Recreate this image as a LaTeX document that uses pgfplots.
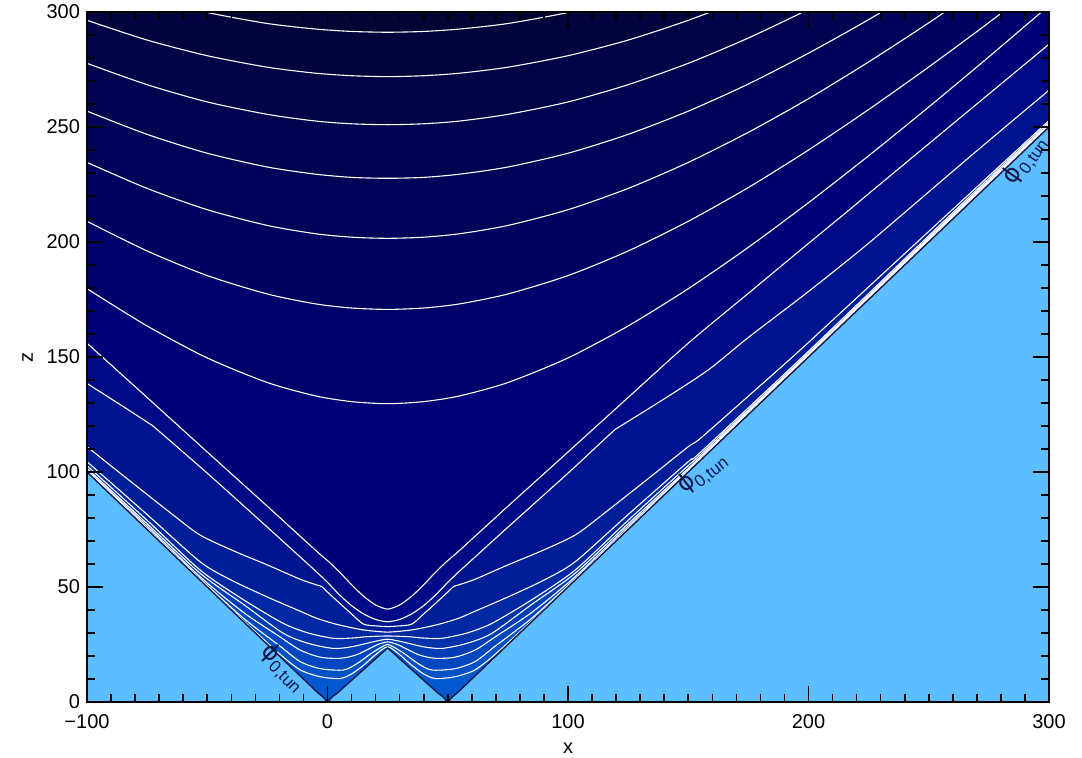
\documentclass[border=0pt]{standalone}
\usepackage{fontspec}
\setmainfont{Liberation Sans}
\newfontfamily\dejavu{DejaVu Sans}
\usepackage{pgfplots}
\usepackage{pgfplotstable}
\pgfplotsset{compat=1.18}
\definecolor{B0}{RGB}{4,4,52}
\definecolor{B1}{RGB}{3,3,62}
\definecolor{B2}{RGB}{3,3,72}
\definecolor{B3}{RGB}{2,2,80}
\definecolor{B4}{RGB}{2,2,88}
\definecolor{B5}{RGB}{1,1,97}
\definecolor{B6}{RGB}{0,0,106}
\definecolor{B7}{RGB}{0,0,120}
\definecolor{B8}{RGB}{0,10,134}
\definecolor{B9}{RGB}{0,20,144}
\definecolor{B10}{RGB}{0,30,152}
\definecolor{B11}{RGB}{0,40,162}
\definecolor{B12}{RGB}{0,50,172}
\definecolor{B13}{RGB}{0,60,180}
\definecolor{B14}{RGB}{0,70,190}
\definecolor{B15}{RGB}{0,80,198}
\definecolor{B16}{RGB}{0,88,206}
\definecolor{LBc}{RGB}{92,189,255}
\definecolor{lbl}{RGB}{16,24,80}
\newcommand{\phitun}{{\dejavu\fontsize{12}{13}\selectfont ϕ}\raisebox{-0.5ex}{\fontsize{8.5}{9}\selectfont 0,tun}}
\pgfplotstableread{
x y
-100 314.4
-75 306.3
-50 299.8
-25 295.0
-5 292.6
10 291.55
25 291.2
40 291.55
55 292.6
75 295.0
100 299.8
125 306.3
150 314.4
175 324.1
300 391
}\LA
\pgfplotstableread{
x y
-100 296.4
-75 287.8
-50 281.0
-25 276.0
-5 273.4
10 272.3
25 271.9
40 272.3
55 273.4
75 276.0
100 281.0
125 287.8
150 296.4
175 306.5
200 318.1
300 375.8
}\LB
\pgfplotstableread{
x y
-100 277.7
-75 268.4
-50 260.9
-25 255.5
-5 252.6
10 251.4
25 251.0
40 251.4
55 252.6
75 255.5
100 260.9
125 268.4
150 277.7
175 288.7
200 301.2
225 315.0
300 362.5
}\LC
\pgfplotstableread{
x y
-100 256.9
-75 246.8
-50 238.6
-25 232.6
-5 229.5
10 228.1
25 227.7
40 228.1
55 229.5
75 232.6
100 238.6
125 246.8
150 256.9
175 268.7
200 282.1
225 296.7
250 312.5
300 346.8
}\LD
\pgfplotstableread{
x y
-100 234.6
-75 223.3
-50 214.05
-25 207.2
-5 203.6
10 202.1
25 201.6
40 202.1
55 203.6
75 207.2
100 214.05
125 223.3
150 234.6
175 247.7
200 262.3
225 278.3
250 295.3
275 313.3
300 332.0
}\LE
\pgfplotstableread{
x y
-100 209.0
-75 196.1
-50 185.4
-25 177.4
-5 173.1
10 171.3
25 170.7
40 171.3
55 173.1
75 177.4
100 185.4
125 196.1
150 209.0
175 223.7
200 240.0
225 257.6
250 276.1
275 295.4
300 315.4
}\LF
\pgfplotstableread{
x y
-100 179.7
-75 163.5
-50 149.6
-25 138.9
-5 133.1
10 130.6
25 129.7
40 130.6
55 133.1
75 138.9
100 149.6
125 163.5
150 179.7
175 197.7
200 217.1
225 237.5
250 258.7
275 280.5
300 302.8
}\LG
\pgfplotstableread{
x y
-100 156
-75 132.4
-50 108.7
-25 85.1
-5 66
0 61.5
5 56.5
10 51
15 46
20 42.2
25 40.4
30 42.2
35 46
40 51
45 56.5
50 61.5
55 66
75 85.1
100 108.7
125 132.4
150 156
175 177.7
200 199.4
217 214
225 221
250 242.7
267.2 257.6
300 286
}\LH
\pgfplotstableread{
x y
-100 138.5
-85 128.5
-74 121
-71 118.6
-50 99.5
-25 76
-5 57
0 52
5 46.6
10 41.9
15 38.3
20 35.9
25 34.9
30 35.9
35 38.3
40 41.9
45 46.6
50 52
55 57
75 76
100 99.5
118 117
121 119.4
135 128.5
150 138.5
160 145.7
175 158.5
200 178.5
225 199.5
267 237
300 266
}\LI
\pgfplotstableread{
x y
-100 111
-85 98.5
-65 82
-53 72.6
-39 65.7
-25 59.6
-11.4 53.4
-4.5 50.9
-2.4 50.2
0 47.8
5 43
10 38.3
14.9 33.9
20 33.1
25 32.8
30 33.1
35.1 33.9
40 38.3
45 43
50 47.8
52.4 50.2
54.5 50.9
61.4 53.4
75 59.6
89 65.7
103 72.6
115 82
135 98.5
150 111
155 114.6
175 133
196.5 153
225 180.5
267 221
300 252.8
}\LJ
\pgfplotstableread{
x y
-100 104.5
-75 81.5
-53 61
-40 53
-25.3 45.8
-11.4 39.5
-4.5 36.4
3 34
10 32.3
16 31.2
25 30.4
34 31.2
40 32.3
47 34
54.5 36.4
61.4 39.5
75.3 45.8
90 53
103 61
125 81.5
150 104.5
155 108.5
200 152.5
267 219.8
300 252
}\LK
\pgfplotstableread{
x y
-100 102.8
-75 79
-53 57.4
-35 44.5
-18.4 34.2
-8 30
2.4 27.7
10 27.8
16.3 28.4
25 28.7
33.7 28.4
40 27.8
47.6 27.7
58 30
68.4 34.2
85 44.5
103 57.4
125 79
150 102.8
155 107.5
200 151.7
267 219
300 251.3
}\LL
\pgfplotstableread{
x y
-100 101.6
-75 77.5
-53 56
-35 42.5
-18.4 29.9
-8 25.5
2.4 23.3
10 24
19.1 26.2
25 27.3
30.9 26.2
40 24
47.6 23.3
58 25.5
68.4 29.9
85 42.5
103 56
125 77.5
150 101.6
155 106.6
200 151.2
267 218.5
300 250.9
}\LM
\pgfplotstableread{
x y
-100 100.9
-75 76.5
-53 54.5
-35 39
-20 28.5
-11.4 22.6
-3 19.5
5.2 19
12 20.5
20.5 24.8
25 26.1
29.5 24.8
38 20.5
44.8 19
53 19.5
61.4 22.6
70 28.5
85 39
103 54.5
125 76.5
150 100.9
155 106
200 150.8
267 218
300 250.6
}\LN
\pgfplotstableread{
x y
-100 100.5
-75 75.6
-53 53.6
-35 36.5
-20 24.5
-11.4 17.6
-3 14.5
6.6 13.9
12 16.5
18 21
22 23.6
25 25.0
28 23.6
32 21
38 16.5
43.4 13.9
53 14.5
61.4 17.6
70 24.5
85 36.5
103 53.6
125 75.6
150 100.5
200 150.4
267 217.7
300 250.35
}\LO
\pgfplotstableread{
x y
-100 100.2
-53 53.2
-35 35.4
-20 21
-11.4 14
-3.1 11
5.2 10.2
10 12.2
15 16
20 20.6
25 24.0
30 20.6
35 16
40 12.2
44.8 10.2
53.1 11
61.4 14
70 21
85 35.4
103 53.2
150 100.2
300 250.15
}\LP
\begin{document}
\begin{tikzpicture}
\begin{axis}[
  scale only axis, width=481pt, height=345pt,
  xmin=-100, xmax=300, ymin=0, ymax=300,
  xtick={-100,0,100,200,300}, xticklabels={−100,0,100,200,300},
  ytick={0,50,100,150,200,250,300}, yticklabels={0,50,100,150,200,250,300},
  minor x tick num=9, minor y tick num=4,
  tick align=inside, tick pos=both,
  major tick length=8pt, minor tick length=4pt,
  axis line style={line width=1pt},
  every tick/.style={black, line width=0.8pt},
  ticklabel style={font=\fontsize{10}{12}\selectfont},
  xticklabel style={yshift=-2.5pt},
  label style={font=\fontsize{10}{12}\selectfont},
  xlabel={x}, ylabel={z},
  xlabel style={yshift=-0.5pt},
  axis on top, clip=true,
  every axis plot/.append style={tension=0.45},
]
\addplot[fill=B0, draw=none] coordinates {(-100,300) (300,300)} \closedcycle;
\addplot[fill=B1, draw=none, smooth] table {\LA} \closedcycle;
\addplot[fill=B2, draw=none, smooth] table {\LB} \closedcycle;
\addplot[fill=B3, draw=none, smooth] table {\LC} \closedcycle;
\addplot[fill=B4, draw=none, smooth] table {\LD} \closedcycle;
\addplot[fill=B5, draw=none, smooth] table {\LE} \closedcycle;
\addplot[fill=B6, draw=none, smooth] table {\LF} \closedcycle;
\addplot[fill=B7, draw=none, smooth] table {\LG} \closedcycle;
\addplot[fill=B8, draw=none, smooth] table {\LH} \closedcycle;
\addplot[fill=B9, draw=none, smooth] table {\LI} \closedcycle;
\addplot[fill=B10, draw=none, smooth] table {\LJ} \closedcycle;
\addplot[fill=B11, draw=none, smooth] table {\LK} \closedcycle;
\addplot[fill=B12, draw=none, smooth] table {\LL} \closedcycle;
\addplot[fill=B13, draw=none, smooth] table {\LM} \closedcycle;
\addplot[fill=B14, draw=none, smooth] table {\LN} \closedcycle;
\addplot[fill=B15, draw=none, smooth] table {\LO} \closedcycle;
\addplot[fill=B16, draw=none, smooth] table {\LP} \closedcycle;
% light region
\addplot[fill=LBc, draw=none] coordinates {(-100,0) (-100,100) (-4,4) (-2,2.3) (-1,1.2) (-0.4,0)} --cycle;
\addplot[fill=LBc, draw=none] coordinates {(0.4,0) (1,1.2) (2,2.3) (4,3.8) (25,23.5) (46,3.8) (48,2.3) (49,1.2) (49.6,0)} --cycle;
\addplot[fill=LBc, draw=none] coordinates {(50.4,0) (51,1.2) (52,2.3) (54,4) (300,250) (300,0)} --cycle;
% white contour lines
\addplot[white, line width=0.55pt, smooth] table {\LA};
\addplot[white, line width=0.55pt, smooth] table {\LB};
\addplot[white, line width=0.55pt, smooth] table {\LC};
\addplot[white, line width=0.55pt, smooth] table {\LD};
\addplot[white, line width=0.55pt, smooth] table {\LE};
\addplot[white, line width=0.55pt, smooth] table {\LF};
\addplot[white, line width=0.55pt, smooth] table {\LG};
\addplot[white, line width=0.55pt, smooth] table {\LH};
\addplot[white, line width=0.55pt, smooth] table {\LI};
\addplot[white, line width=0.55pt, smooth] table {\LJ};
\addplot[white, line width=0.55pt, smooth] table {\LK};
\addplot[white, line width=0.55pt, smooth] table {\LL};
\addplot[white, line width=0.55pt, smooth] table {\LM};
\addplot[white, line width=0.55pt, smooth] table {\LN};
\addplot[white, line width=0.55pt, smooth] table {\LO};
\addplot[white, line width=0.55pt, smooth] table {\LP};
% boundary outline
\addplot[lbl, line width=0.7pt] coordinates {(-100,100) (-4,4) (-2,2.3) (-1,1.2) (-0.4,0)};
\addplot[lbl, line width=0.7pt] coordinates {(0.4,0) (1,1.2) (2,2.3) (4,3.8) (25,23.5) (46,3.8) (48,2.3) (49,1.2) (49.6,0)};
\addplot[lbl, line width=0.7pt] coordinates {(50.4,0) (51,1.2) (52,2.3) (54,4) (300,250)};
% labels
\node[text=lbl, rotate=-45, inner sep=0pt] at (axis cs:-18.5,14.8) {\phitun};
\node[text=lbl, rotate=38, inner sep=0pt] at (axis cs:155.7,99.5) {\phitun};
\node[text=lbl, rotate=55, inner sep=0pt] at (axis cs:290,235.5) {\phitun};
\end{axis}
\pgfresetboundingbox
\path (-43.5pt,-27.5pt) rectangle (497.5pt,351pt);
\end{tikzpicture}
\end{document}
